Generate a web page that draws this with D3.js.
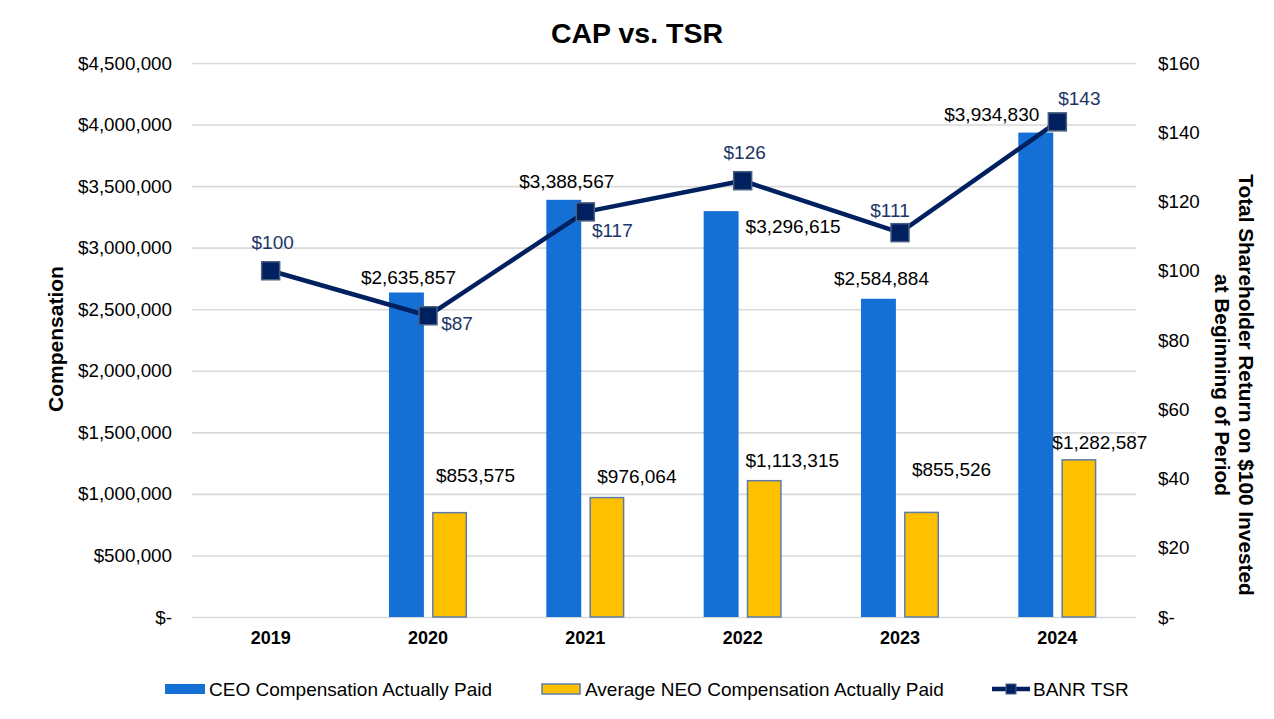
<!DOCTYPE html>
<html><head><meta charset="utf-8">
<script src="https://cdn.jsdelivr.net/npm/d3@7"></script>
<style>
html,body{margin:0;padding:0;background:#fff;}
text{font-family:"Liberation Sans",Arial,Helvetica,sans-serif;}
</style></head>
<body><svg id="c" width="1274" height="719"></svg>
<script>
const years = ["2019","2020","2021","2022","2023","2024"];
const ceoCap = [null, 2635857, 3388567, 3296615, 2584884, 3934830];
const neoCap = [null, 853575, 976064, 1113315, 855526, 1282587];
const tsr = [100, 87, 117, 126, 111, 143];
const leftTicks = [0,500000,1000000,1500000,2000000,2500000,3000000,3500000,4000000,4500000];
const rightTicks = [0,20,40,60,80,100,120,140,160];
// label placement offsets (layout only)
const ceoLabelOff = [null,[2,-15],[3,-18],[72,15],[3,-20],[-44,-18]];
const neoLabelOff = [null,[26,-36],[30,-20],[28,-19],[30,-42],[21,-17]];
const tsrLabelOff = [[2,-28],[29,8],[27,19],[2,-28],[-10,-22],[22,-23]];

const C_CEO="#1570d6", C_NEO="#ffc000", C_NEO_STROKE="#5b7cab", C_LINE="#002060", C_MARK_STROKE="#4a5f80", C_TSRLBL="#1a3566";

const svg = d3.select("#c");
const L=192, R=1136, T=63, B=617;
const x = d3.scaleBand().domain(years).range([L,R]).paddingInner(0).paddingOuter(0);
const yL = d3.scaleLinear().domain([0,4500000]).range([B,T]);
const yR = d3.scaleLinear().domain([0,160]).range([B,T]);
const bw = x.bandwidth()*0.222, off = x.bandwidth()*0.137;
const cx = d => x(d)+x.bandwidth()/2;

// title
svg.append("text").attr("x",637).attr("y",33).attr("text-anchor","middle").attr("dominant-baseline","central")
  .style("font-size","28.5px").style("font-weight","bold").text("CAP vs. TSR");

// grid
const grid = svg.append("g").attr("transform",`translate(${L},0)`)
  .call(d3.axisLeft(yL).tickValues(leftTicks).tickSize(-(R-L)).tickFormat(""));
grid.select(".domain").remove();
grid.selectAll("line").attr("stroke","#d9d9d9").attr("stroke-width",1.6);

// left axis
const fmt = d3.format(",");
const la = svg.append("g").attr("transform",`translate(${L},0)`)
  .call(d3.axisLeft(yL).tickValues(leftTicks).tickSize(0).tickPadding(20).tickFormat(d=> d===0?"$-":"$"+fmt(d)));
la.select(".domain").remove();
la.selectAll("text").style("font-size","18.8px").attr("fill","#000").style("font-family",'"Liberation Sans",Arial,sans-serif');

// right axis
const ra = svg.append("g").attr("transform",`translate(${R},0)`)
  .call(d3.axisRight(yR).tickValues(rightTicks).tickSize(0).tickPadding(22).tickFormat(d=> d===0?"$-":"$"+d));
ra.select(".domain").remove();
ra.selectAll("text").style("font-size","18.8px").attr("fill","#000").style("font-family",'"Liberation Sans",Arial,sans-serif');

// x axis
const xa = svg.append("g").attr("transform",`translate(0,${B})`)
  .call(d3.axisBottom(x).tickSize(0).tickPadding(14));
xa.select(".domain").remove();
xa.selectAll("text").style("font-size","18px").style("font-weight","bold").attr("fill","#000").style("font-family",'"Liberation Sans",Arial,sans-serif');

// axis titles
svg.append("text").attr("transform","translate(55,339) rotate(-90)").attr("text-anchor","middle").attr("dominant-baseline","central")
  .style("font-size","21px").style("font-weight","bold").text("Compensation");
const rt = svg.append("text").attr("transform","translate(1246,385) rotate(90)").attr("text-anchor","middle")
  .style("font-size","20.8px").style("font-weight","bold");
rt.append("tspan").attr("x",0).attr("y",0).attr("dominant-baseline","central").text("Total Shareholder Return on $100 Invested");
rt.append("tspan").attr("x",0).attr("y",24).attr("dominant-baseline","central").text("at Beginning of Period");

// bars
const ceoData = years.map((y,i)=>({y,v:ceoCap[i],i})).filter(d=>d.v!=null);
const neoData = years.map((y,i)=>({y,v:neoCap[i],i})).filter(d=>d.v!=null);
svg.append("g").selectAll("rect").data(ceoData).join("rect")
  .attr("x",d=>cx(d.y)-off-bw/2).attr("width",bw).attr("y",d=>yL(d.v)).attr("height",d=>B-yL(d.v)).attr("fill",C_CEO);
svg.append("g").selectAll("rect").data(neoData).join("rect")
  .attr("x",d=>cx(d.y)+off-bw/2+0.75).attr("width",bw-1.5).attr("y",d=>yL(d.v)+0.75).attr("height",d=>B-yL(d.v)-0.75)
  .attr("fill",C_NEO).attr("stroke",C_NEO_STROKE).attr("stroke-width",1.5);

// line
const pts = years.map((y,i)=>({y,v:tsr[i],i}));
svg.append("path").datum(pts).attr("fill","none").attr("stroke",C_LINE).attr("stroke-width",4.5).attr("stroke-linejoin","round")
  .attr("d",d3.line().x(d=>cx(d.y)).y(d=>yR(d.v)));
svg.append("g").selectAll("rect").data(pts).join("rect")
  .attr("x",d=>cx(d.y)-9).attr("y",d=>yR(d.v)-9).attr("width",18).attr("height",18)
  .attr("fill",C_LINE).attr("stroke",C_MARK_STROKE).attr("stroke-width",1.5);

// labels
const lbl = (g,data,offs,getX,getY,fmtf,color)=>g.selectAll("text").data(data).join("text")
  .attr("x",d=>getX(d)+offs[d.i][0]).attr("y",d=>getY(d)+offs[d.i][1]).attr("text-anchor","middle").attr("dominant-baseline","central")
  .style("font-size","19px").attr("fill",color).text(fmtf);
lbl(svg.append("g"),ceoData,ceoLabelOff,d=>cx(d.y)-off,d=>yL(d.v),d=>"$"+fmt(d.v),"#000");
lbl(svg.append("g"),neoData,neoLabelOff,d=>cx(d.y)+off,d=>yL(d.v),d=>"$"+fmt(d.v),"#000");
lbl(svg.append("g"),pts,tsrLabelOff,d=>cx(d.y),d=>yR(d.v),d=>"$"+d.v,C_TSRLBL);

// legend
const lg = svg.append("g");
const ly = 689;
lg.append("rect").attr("x",165).attr("y",ly-5).attr("width",40).attr("height",10).attr("fill",C_CEO);
lg.append("text").attr("x",209).attr("y",ly).attr("dominant-baseline","central").style("font-size","19px").text("CEO Compensation Actually Paid");
lg.append("rect").attr("x",542).attr("y",ly-5).attr("width",38).attr("height",10).attr("fill",C_NEO).attr("stroke",C_NEO_STROKE).attr("stroke-width",1.5);
lg.append("text").attr("x",585).attr("y",ly).attr("dominant-baseline","central").style("font-size","19px").text("Average NEO Compensation Actually Paid");
lg.append("line").attr("x1",992).attr("x2",1030).attr("y1",ly).attr("y2",ly).attr("stroke",C_LINE).attr("stroke-width",4.5);
lg.append("rect").attr("x",1006).attr("y",ly-5).attr("width",10).attr("height",10).attr("fill",C_LINE).attr("stroke",C_MARK_STROKE).attr("stroke-width",1);
lg.append("text").attr("x",1033).attr("y",ly).attr("dominant-baseline","central").style("font-size","19px").text("BANR TSR");
</script></body></html>
